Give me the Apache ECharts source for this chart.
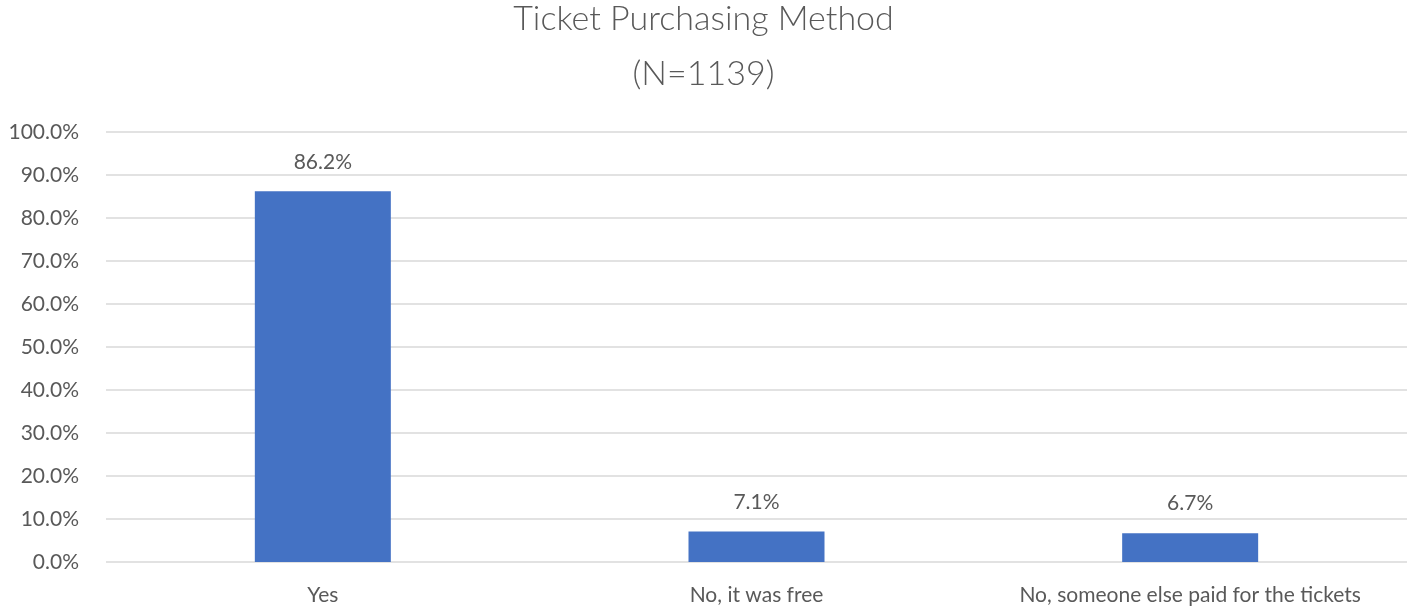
<!DOCTYPE html>
<html>
<head>
<meta charset="utf-8">
<script src="https://cdn.jsdelivr.net/npm/echarts@6/dist/echarts.min.js"></script>
<style>
  html, body { margin: 0; padding: 0; background: #fff; }
  #main { width: 1407px; height: 610px; }
</style>
</head>
<body>
<div id="main"></div>
<script>
var categories = ['Yes', 'No, it was free', 'No, someone else paid for the tickets'];
var shares = [86.2, 7.1, 6.7];
var yTicks = [0, 10, 20, 30, 40, 50, 60, 70, 80, 90, 100];

var textColor = '#595959';
var font = 'Lato';

var myChart = echarts.init(document.getElementById('main'));

var option = {
    animation: false,
    title: {
        text: 'Ticket Purchasing Method\n(N=1139)',
        left: 'center',
        top: -8,
        padding: 0,
        textStyle: {
            color: textColor,
            fontFamily: font,
            fontWeight: 300,
            fontSize: 34,
            lineHeight: 55
        }
    },
    grid: {
        left: 106,
        right: 0,
        top: 132,
        bottom: 48
    },
    xAxis: {
        type: 'category',
        data: categories,
        axisLine: { show: false },
        axisTick: { show: false },
        axisLabel: {
            interval: 0,
            hideOverlap: false,
            color: textColor,
            fontFamily: font,
            fontSize: 21,
            margin: 23
        }
    },
    yAxis: {
        type: 'value',
        min: yTicks[0],
        max: yTicks[yTicks.length - 1],
        interval: 10,
        axisLine: { show: false },
        axisTick: { show: false },
        splitLine: { lineStyle: { color: '#d9d9d9', width: 1.5 } },
        axisLabel: {
            color: textColor,
            fontFamily: font,
            fontSize: 21,
            margin: 27,
            formatter: function (v) { return v.toFixed(1) + '%'; }
        }
    },
    series: [{
        type: 'bar',
        data: shares,
        barWidth: 136,
        itemStyle: { color: '#4472C4' },
        label: {
            show: true,
            position: 'top',
            distance: 19,
            color: textColor,
            fontFamily: font,
            fontSize: 21,
            formatter: function (p) { return p.value.toFixed(1) + '%'; }
        }
    }]
};

myChart.setOption(option, true);
</script>
</body>
</html>
